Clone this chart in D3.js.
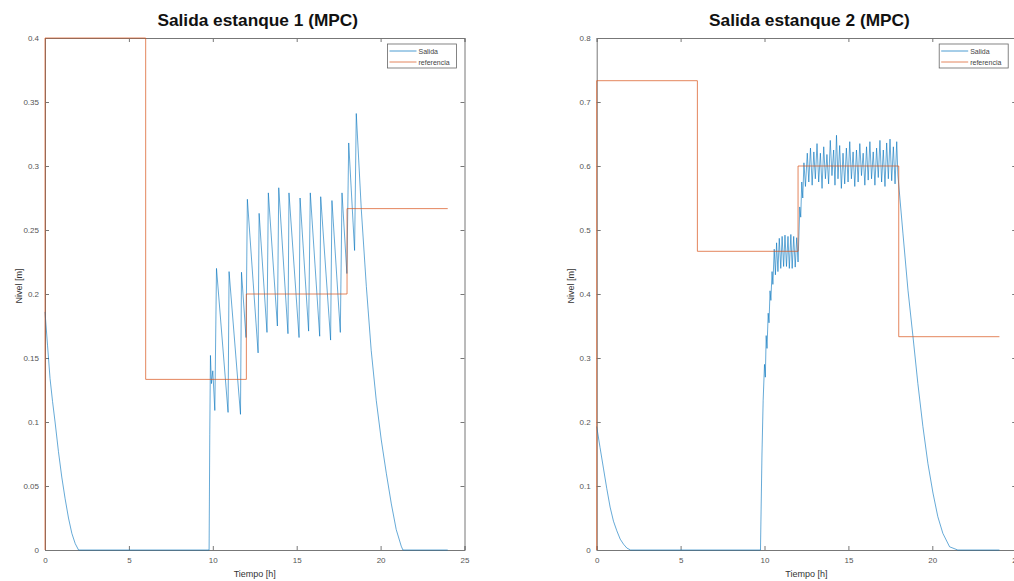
<!DOCTYPE html>
<html>
<head>
<meta charset="utf-8">
<script src="https://cdn.jsdelivr.net/npm/d3@7"></script>
<style>
  body { margin: 0; background: #fff; }
  svg { display: block; font-family: "Liberation Sans", Arial, sans-serif; }
</style>
</head>
<body>
<svg id="fig" width="1014" height="581"></svg>
<script>
// valores (tiempo [h], nivel [m])
const timeTicks = [0, 5, 10, 15, 20, 25];
const nivelTicks1 = [0, 0.05, 0.1, 0.15, 0.2, 0.25, 0.3, 0.35, 0.4];
const nivelTicks2 = [0, 0.1, 0.2, 0.3, 0.4, 0.5, 0.6, 0.7, 0.8];
const seriesNames = ["Salida", "referencia"];

const salida1 = [
  [0,0.186],[0.15,0.16],[0.3,0.134],[0.45,0.116],[0.6,0.1],[0.8,0.077],[1.0,0.057],
  [1.2,0.04],[1.4,0.025],[1.6,0.013],[1.8,0.005],[2.0,0],[9.78,0],[9.82,0.09],
  [9.86,0.152],[9.92,0.13],[10.0,0.14],[10.12,0.109],[10.22,0.22],[10.91,0.1075],
  [10.97,0.2175],[11.65,0.106],[11.71,0.217],[11.98,0.166],[12.06,0.274],[12.70,0.154],
  [12.76,0.263],[13.23,0.170],[13.31,0.279],[13.85,0.175],[13.93,0.283],[14.48,0.169],
  [14.54,0.279],[15.14,0.166],[15.20,0.275],[15.71,0.171],[15.81,0.279],[16.37,0.167],
  [16.43,0.276],[17.02,0.164],[17.10,0.273],[17.60,0.170],[17.70,0.279],[17.99,0.216],
  [18.10,0.318],[18.45,0.234],[18.55,0.341],[18.85,0.266],[19.15,0.206],[19.44,0.156],
  [19.74,0.117],[20.04,0.086],[20.34,0.060],[20.64,0.036],[20.93,0.016],[21.23,0.003],
  [21.33,0],[24,0]
];
const referencia1 = [
  [0,0],[0,0.4],[6,0.4],[6,0.1333],[12,0.1333],[12,0.2],[18,0.2],[18,0.2667],[24,0.2667]
];

const salida2 = [
  [0,0.193],[0.2,0.16],[0.4,0.128],[0.6,0.096],[0.8,0.067],[1.0,0.045],[1.2,0.03],
  [1.4,0.017],[1.6,0.009],[1.8,0.003],[2.02,0],[9.76,0],[9.85,0.15],[9.92,0.234],
  [10.0,0.29],[10.05,0.27],[10.1,0.335],[10.15,0.315],[10.22,0.37],[10.27,0.355],
  [10.33,0.405],[10.38,0.39],[10.45,0.435],[10.5,0.415],[10.58,0.47],[10.65,0.43],
  [10.72,0.48],[10.8,0.435],[10.88,0.487],[10.97,0.44],[11.05,0.49],[11.14,0.443],
  [11.22,0.492],[11.31,0.443],[11.4,0.49],[11.48,0.44],[11.57,0.493],[11.65,0.44],
  [11.74,0.49],[11.83,0.442],[11.92,0.488],[12.0,0.45],[12.06,0.5],[12.1,0.536],
  [12.16,0.52],[12.22,0.575],[12.28,0.55],[12.35,0.605],[12.44,0.568],[12.55,0.62],
  [12.64,0.575],[12.74,0.628],[12.84,0.57],[12.94,0.622],[13.03,0.58],[13.13,0.635],
  [13.23,0.575],[13.33,0.62],[13.43,0.565],[13.53,0.63],[13.63,0.58],[13.72,0.618],
  [13.82,0.572],[13.92,0.64],[14.02,0.585],[14.12,0.625],[14.2,0.57],[14.29,0.648],
  [14.38,0.58],[14.48,0.632],[14.58,0.565],[14.68,0.62],[14.78,0.572],[14.88,0.628],
  [14.98,0.575],[15.08,0.638],[15.18,0.58],[15.28,0.622],[15.38,0.568],[15.48,0.625],
  [15.58,0.575],[15.68,0.635],[15.78,0.585],[15.88,0.62],[15.98,0.57],[16.08,0.63],
  [16.18,0.578],[16.28,0.638],[16.38,0.58],[16.48,0.622],[16.58,0.57],[16.68,0.628],
  [16.78,0.582],[16.88,0.64],[16.98,0.575],[17.08,0.625],[17.18,0.568],[17.28,0.636],
  [17.38,0.58],[17.48,0.642],[17.58,0.577],[17.68,0.63],[17.78,0.572],[17.88,0.638],
  [17.95,0.586],[18.25,0.495],[18.55,0.406],[18.85,0.333],[19.14,0.26],[19.44,0.193],
  [19.74,0.135],[20.04,0.089],[20.33,0.052],[20.63,0.026],[21.03,0.005],[21.52,0],[24,0]
];
const referencia2 = [
  [0,0],[0,0.7333],[6,0.7333],[6,0.4667],[12,0.4667],[12,0.6],[18,0.6],[18,0.3333],[24,0.3333]
];

const azul = "#0072BD", naranja = "#D95319";
const svg = d3.select("#fig");

function panel(left, titulo, salida, ref, yMax, yTicks){
  const top = 38, bottom = 550, w = 419.5;
  const x = d3.scaleLinear().domain([0, 25]).range([left, left + w]);
  const y = d3.scaleLinear().domain([0, yMax]).range([bottom, top]);
  const g = svg.append("g");

  // ejes con marcas hacia adentro (estilo MATLAB)
  const ejeX = g.append("g").attr("transform", `translate(0,${bottom})`)
    .call(d3.axisBottom(x).tickValues(timeTicks).tickSize(-4).tickPadding(7).tickFormat(d3.format("d")));
  const ejeXtop = g.append("g").attr("transform", `translate(0,${top})`)
    .call(d3.axisTop(x).tickValues(timeTicks).tickSize(-4).tickFormat(""));
  const ejeY = g.append("g").attr("transform", `translate(${left},0)`)
    .call(d3.axisLeft(y).tickValues(yTicks).tickSize(-4).tickPadding(6).tickFormat(d => d3.format("")(+d.toFixed(2))));
  const ejeYr = g.append("g").attr("transform", `translate(${left + w},0)`)
    .call(d3.axisRight(y).tickValues(yTicks).tickSize(-4).tickFormat(""));
  [ejeX, ejeXtop, ejeY, ejeYr].forEach(a => {
    a.select(".domain").attr("stroke", "#777").attr("stroke-width", 1);
    a.selectAll(".tick line").attr("stroke", "#777");
    a.selectAll("text").attr("fill", "#555").style("font-size", "8px").style("font-family", "Liberation Sans, Arial, sans-serif");
  });

  const line = d3.line().x(d => x(d[0])).y(d => y(d[1]));
  g.append("path").datum(salida).attr("d", line)
    .attr("fill", "none").attr("stroke", azul).attr("stroke-width", 1).attr("stroke-opacity", 0.6);
  g.append("path").datum(ref).attr("d", line)
    .attr("fill", "none").attr("stroke", naranja).attr("stroke-width", 1).attr("stroke-opacity", 0.7);

  g.append("text").attr("x", left + w / 2 + 3).attr("y", 26).attr("text-anchor", "middle")
    .style("font-size", "17.3px").style("font-weight", "bold").attr("fill", "#111").text(titulo);
  g.append("text").attr("x", left + w / 2).attr("y", 577).attr("text-anchor", "middle")
    .style("font-size", "9px").attr("fill", "#333").text("Tiempo [h]");
  g.append("text").attr("transform", `translate(${left - 23},${(top + bottom) / 2 - 8}) rotate(-90)`)
    .attr("text-anchor", "middle").style("font-size", "9px").attr("fill", "#333").text("Nivel [m]");

  // leyenda
  const lx = left + w - 77, ly = 44;
  const leg = g.append("g").attr("transform", `translate(${lx},${ly})`);
  leg.append("rect").attr("width", 69).attr("height", 24).attr("fill", "#fff").attr("stroke", "#666").attr("stroke-width", 0.8);
  seriesNames.forEach((n, i) => {
    const yy = 7 + i * 11;
    leg.append("line").attr("x1", 2).attr("x2", 29).attr("y1", yy).attr("y2", yy)
      .attr("stroke", i ? naranja : azul).attr("stroke-opacity", 0.7);
    leg.append("text").attr("x", 31).attr("y", yy + 2.5).style("font-size", "7px").attr("fill", "#444").text(n);
  });
}

panel(45, "Salida estanque 1 (MPC)", salida1, referencia1, 0.4, nivelTicks1);
panel(596.7, "Salida estanque 2 (MPC)", salida2, referencia2, 0.8, nivelTicks2);
</script>
</body>
</html>
